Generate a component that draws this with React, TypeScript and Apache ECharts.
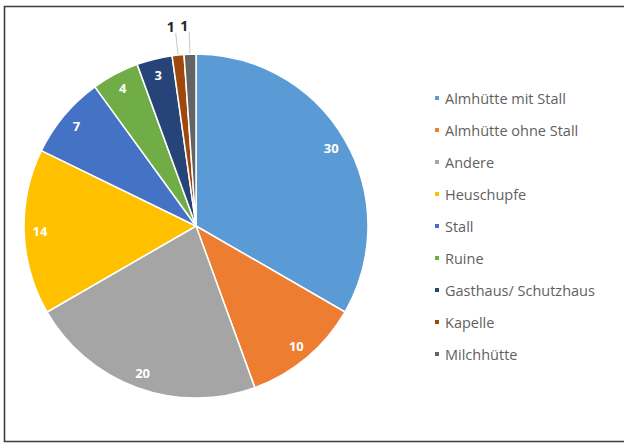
import React, { useEffect, useRef } from "react";
import * as echarts from "echarts";

const categories = [
  "Almhütte mit Stall",
  "Almhütte ohne Stall",
  "Andere",
  "Heuschupfe",
  "Stall",
  "Ruine",
  "Gasthaus/ Schutzhaus",
  "Kapelle",
  "Milchhütte",
];
const values = [30, 10, 20, 14, 7, 4, 3, 1, 1];
const colors = [
  "#5B9BD5",
  "#ED7D31",
  "#A5A5A5",
  "#FFC000",
  "#4472C4",
  "#70AD47",
  "#264478",
  "#9E480E",
  "#636363",
];
const outsideLabelThreshold = 1;

export default function App() {
  const ref = useRef<HTMLDivElement>(null);
  useEffect(() => {
    if (!ref.current) return;
    const chart = echarts.init(ref.current, undefined, { renderer: "svg" });
    const R = 172;
    const mainData = categories.map((name, i) => ({
      name,
      value: values[i],
      itemStyle: { color: colors[i] },
      label: { show: values[i] <= outsideLabelThreshold },
      labelLine: { show: values[i] <= outsideLabelThreshold },
    }));
    const overlayData = categories.map((name, i) => ({
      name,
      value: values[i],
      label: { show: values[i] > outsideLabelThreshold },
    }));
    chart.setOption({
      animation: false,
      backgroundColor: "#ffffff",
      graphic: [
        {
          type: "polyline",
          shape: {
            points: [
              [630, 6.5],
              [4.5, 6.5],
              [4.5, 441.5],
              [630, 441.5],
            ],
          },
          style: { stroke: "#3c3c3c", lineWidth: 1.6, fill: "none" },
          silent: true,
        },
      ],
      legend: {
        orient: "vertical",
        left: 428,
        top: 85,
        data: categories,
        icon: "rect",
        itemWidth: 6,
        itemHeight: 6,
        itemGap: 16,
        selectedMode: false,
        textStyle: {
          fontFamily: "Open Sans",
          fontSize: 14.5,
          color: "#5f5f5f",
          lineHeight: 16,
        },
      },
      series: [
        {
          type: "pie",
          center: [196, 226],
          radius: [0, R],
          startAngle: 90,
          clockwise: true,
          avoidLabelOverlap: false,
          data: mainData,
          itemStyle: { borderColor: "#ffffff", borderWidth: 1.5 },
          label: {
            position: "outside",
            color: "#262626",
            fontWeight: "bold",
            fontFamily: "Open Sans",
            fontSize: 14,
            formatter: "{c}",
          },
          labelLine: {
            length: 22,
            length2: 0,
            lineStyle: { color: "#c8c8c8", width: 1 },
          },
          labelLayout: () => ({ align: "center", verticalAlign: "bottom" }),
          emphasis: { disabled: true },
        },
        {
          type: "pie",
          center: [196, 226],
          radius: [0, R * 1.78],
          startAngle: 90,
          clockwise: true,
          silent: true,
          data: overlayData,
          itemStyle: { color: "transparent", borderWidth: 0 },
          label: {
            position: "inside",
            color: "#ffffff",
            fontWeight: "bold",
            fontFamily: "Open Sans",
            fontSize: 13,
            formatter: "{c}",
          },
          labelLine: { show: false },
          emphasis: { disabled: true },
        },
      ],
    });
    return () => chart.dispose();
  }, []);
  return (
    <div
      ref={ref}
      style={{ position: "fixed", left: 0, top: 0, width: 624, height: 443 }}
    />
  );
}
